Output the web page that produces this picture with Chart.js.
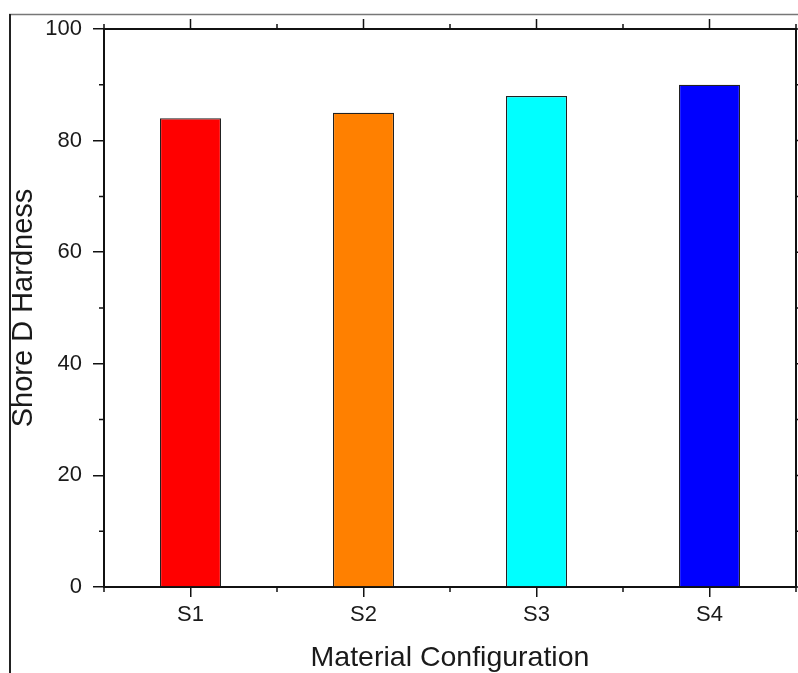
<!DOCTYPE html>
<html>
<head>
<meta charset="utf-8">
<style>
  html, body { margin: 0; padding: 0; background: #fff; }
  #wrap { width: 798px; height: 673px; }
</style>
<script src="https://cdn.jsdelivr.net/npm/chart.js@4.4.1/dist/chart.umd.min.js"></script>
</head>
<body>
<div id="wrap"><canvas id="c" width="798" height="673"></canvas></div>
<script>
const categories = ['S1', 'S2', 'S3', 'S4'];
const hardness = [84, 85, 88, 90];
const barColors = ['#FF0000', '#FF8000', '#00FFFF', '#0000FF'];
const yMajorTicks = [0, 20, 40, 60, 80, 100];
const yMinorTicks = [10, 30, 50, 70, 90];
const yTitle = 'Shore D Hardness';
const xTitle = 'Material Configuration';

const FONT = '"Liberation Sans", Arial, sans-serif';
const AXIS_COLOR = '#111';

const framePlugin = {
  id: 'frame',
  beforeDraw(chart) {
    const ctx = chart.ctx;
    ctx.save();
    ctx.fillStyle = '#fff';
    ctx.fillRect(0, 0, chart.width, chart.height);
    ctx.strokeStyle = '#777';
    ctx.lineWidth = 1.5;
    ctx.beginPath();
    ctx.moveTo(9, 14.5);
    ctx.lineTo(chart.width, 14.5);
    ctx.stroke();
    ctx.strokeStyle = '#222';
    ctx.lineWidth = 2;
    ctx.beginPath();
    ctx.moveTo(10, 14);
    ctx.lineTo(10, chart.height);
    ctx.stroke();
    ctx.restore();
  },
  afterDraw(chart) {
    const ctx = chart.ctx;
    const a = chart.chartArea;
    const xs = chart.scales.x, ys = chart.scales.y;
    ctx.save();
    ctx.strokeStyle = AXIS_COLOR;
    ctx.lineWidth = 2;
    ctx.beginPath();
    ctx.moveTo(a.left - 1, a.top);
    ctx.lineTo(a.right + 1, a.top);
    ctx.moveTo(a.right, a.top);
    ctx.lineTo(a.right, a.bottom);
    ctx.stroke();
    ctx.lineWidth = 1.5;
    ctx.beginPath();
    yMinorTicks.forEach(v => {
      const py = ys.getPixelForValue(v);
      ctx.moveTo(a.left, py); ctx.lineTo(a.left - 5, py);
      ctx.moveTo(a.right, py); ctx.lineTo(a.right + 5, py);
    });
    yMajorTicks.forEach(v => {
      const py = ys.getPixelForValue(v);
      ctx.moveTo(a.right, py); ctx.lineTo(a.right + 10, py);
    });
    categories.forEach((c, i) => {
      const px = xs.getPixelForValue(i);
      ctx.moveTo(px, a.top); ctx.lineTo(px, a.top - 10);
    });
    for (let i = 0; i <= categories.length; i++) {
      const px = xs.getPixelForValue(i - 0.5);
      ctx.moveTo(px, a.bottom); ctx.lineTo(px, a.bottom + 5);
      ctx.moveTo(px, a.top); ctx.lineTo(px, a.top - 5);
    }
    ctx.stroke();
    ctx.restore();
  }
};

new Chart(document.getElementById('c'), {
  type: 'bar',
  data: {
    labels: categories,
    datasets: [{
      data: hardness,
      backgroundColor: barColors,
      borderColor: '#222',
      borderWidth: 1.2,
      barPercentage: 0.353,
      categoryPercentage: 1.0
    }]
  },
  options: {
    responsive: false,
    animation: false,
    devicePixelRatio: 1,
    layout: { padding: { top: 29, right: 2, left: 0, bottom: 0 } },
    plugins: {
      legend: { display: false },
      tooltip: { enabled: false },
      title: { display: false }
    },
    scales: {
      x: {
        offset: true,
        afterFit(scale) { scale.height = 86; },
        grid: {
          offset: false,
          drawOnChartArea: false,
          drawTicks: true,
          tickLength: 10,
          color: AXIS_COLOR,
          lineWidth: 1.5
        },
        border: { display: true, color: AXIS_COLOR, width: 2 },
        ticks: {
          color: '#1a1a1a',
          font: { family: FONT, size: 22 },
          padding: 5,
          maxRotation: 0
        },
        title: {
          display: true,
          text: xTitle,
          color: '#1a1a1a',
          font: { family: FONT, size: 28.5, lineHeight: 1.0 },
          padding: { top: 0, bottom: 1 }
        }
      },
      y: {
        min: 0,
        max: 100,
        afterFit(scale) { scale.width = 104; },
        afterBuildTicks(scale) { scale.ticks = yMajorTicks.map(v => ({ value: v })); },
        grid: {
          drawOnChartArea: false,
          drawTicks: true,
          tickLength: 11,
          color: AXIS_COLOR,
          lineWidth: 1.5
        },
        border: { display: true, color: AXIS_COLOR, width: 2 },
        ticks: {
          color: '#1a1a1a',
          font: { family: FONT, size: 22 },
          padding: 11
        },
        title: {
          display: true,
          text: yTitle,
          color: '#1a1a1a',
          font: { family: FONT, size: 29, lineHeight: 1.0 },
          padding: { top: 9, bottom: 0 }
        }
      }
    }
  },
  plugins: [framePlugin]
});
</script>
</body>
</html>
